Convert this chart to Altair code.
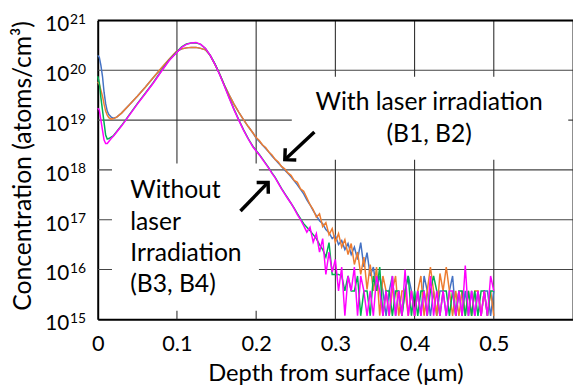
import altair as alt
import pandas as pd

# ---------------- data (log10 of concentration, atoms/cm3) ----------------
HEAD_DEPTH = [0.000, 0.002, 0.004, 0.006, 0.008, 0.010, 0.012, 0.014, 0.017, 0.020,
              0.024, 0.030, 0.040, 0.050, 0.060, 0.070, 0.080, 0.090, 0.100, 0.106,
              0.112, 0.118, 0.124, 0.130, 0.136, 0.142, 0.148, 0.154, 0.160, 0.166,
              0.172, 0.178, 0.184, 0.190, 0.196]

TAIL_DEPTH = [0.200, 0.204, 0.208, 0.212, 0.216, 0.220, 0.224, 0.228, 0.232, 0.236,
              0.240, 0.244, 0.248, 0.252, 0.256, 0.260, 0.264, 0.268, 0.272, 0.276,
              0.280, 0.284, 0.288, 0.292, 0.296, 0.300, 0.304, 0.308, 0.312, 0.316,
              0.320, 0.324, 0.328, 0.332, 0.336, 0.340, 0.344, 0.348, 0.352, 0.356,
              0.360, 0.364, 0.368, 0.372, 0.376, 0.380, 0.384, 0.388, 0.392, 0.396,
              0.400, 0.404, 0.408, 0.412, 0.416, 0.420, 0.424, 0.428, 0.432, 0.436,
              0.440, 0.444, 0.448, 0.452, 0.456, 0.460, 0.464, 0.468, 0.472, 0.476,
              0.480, 0.484, 0.488, 0.492, 0.496, 0.500]

B1_HEAD = [20.30, 20.26, 20.10, 19.88, 19.56, 19.33, 19.18, 19.11, 19.06, 19.04,
           19.06, 19.14, 19.31, 19.48, 19.66, 19.85, 20.03, 20.21, 20.38, 20.43,
           20.45, 20.46, 20.46, 20.44, 20.41, 20.30, 20.12, 19.92, 19.70, 19.50,
           19.32, 19.16, 19.01, 18.87, 18.74]
B1_TAIL = [18.64, 18.57, 18.50, 18.43, 18.36, 18.28, 18.21, 18.14, 18.07, 18.00,
           17.93, 17.86, 17.78, 17.70, 17.61, 17.52, 17.40, 17.30, 17.18, 17.08,
           16.98, 16.92, 16.80, 16.74, 16.62, 16.68, 16.50, 16.58, 16.40, 16.52,
           16.30, 16.45, 16.20, 16.54, 16.05, 16.34, 15.87, 16.05, 15.57, 15.87,
           15.57, 15.07, 15.57, 15.87, 15.07, 15.57, 15.07, 15.57, 15.87, 15.57,
           15.07, 15.57, 15.07, 15.87, 15.57, 15.07, 15.57, 15.07, 15.57, 15.57,
           15.07, 15.57, 15.87, 15.07, 15.57, 15.07, 15.57, 15.07, 15.57, 15.07,
           15.57, 15.07, 15.57, 15.57, 15.07, 15.57]

B2_HEAD = [19.77, 19.72, 19.60, 19.48, 19.32, 19.18, 19.10, 19.05, 19.02, 19.03,
           19.06, 19.14, 19.31, 19.48, 19.66, 19.85, 20.04, 20.22, 20.39, 20.43,
           20.45, 20.46, 20.46, 20.44, 20.41, 20.30, 20.12, 19.92, 19.70, 19.50,
           19.32, 19.16, 19.01, 18.87, 18.74]
B2_TAIL = [18.65, 18.59, 18.50, 18.45, 18.36, 18.30, 18.21, 18.16, 18.07, 18.02,
           17.94, 17.89, 17.79, 17.75, 17.62, 17.57, 17.44, 17.30, 17.20, 17.05,
           17.12, 16.86, 16.94, 16.70, 16.82, 16.55, 16.72, 16.45, 16.60, 16.30,
           16.52, 16.10, 16.35, 15.90, 16.25, 15.60, 16.10, 15.57, 16.05, 15.07,
           15.87, 15.57, 15.07, 15.57, 15.87, 15.07, 15.57, 15.57, 15.07, 15.57,
           15.07, 15.57, 15.87, 15.07, 15.57, 16.05, 15.57, 15.07, 15.92, 15.57,
           16.05, 15.57, 15.07, 15.57, 15.07, 15.57, 15.07, 15.57, 15.07, 15.57,
           15.57, 15.07, 15.57, 15.07, 15.57, 15.07]

B3_HEAD = [19.88, 19.75, 19.45, 19.20, 18.95, 18.70, 18.62, 18.63, 18.66, 18.69,
           18.77, 18.89, 19.11, 19.33, 19.54, 19.75, 19.98, 20.20, 20.37, 20.47,
           20.53, 20.55, 20.55, 20.52, 20.44, 20.30, 20.13, 19.92, 19.69, 19.45,
           19.22, 19.01, 18.81, 18.63, 18.47]
B3_TAIL = [18.39, 18.31, 18.22, 18.13, 18.04, 17.94, 17.85, 17.74, 17.63, 17.53,
           17.43, 17.33, 17.23, 17.12, 17.02, 16.92, 16.85, 16.78, 16.70, 16.62,
           16.50, 16.40, 16.25, 16.54, 15.90, 15.90, 15.90, 15.87, 15.57, 15.87,
           15.57, 15.57, 15.87, 15.07, 15.57, 15.57, 15.07, 15.87, 15.57, 16.05,
           15.07, 15.57, 15.57, 15.07, 15.57, 15.57, 15.07, 15.57, 15.87, 15.07,
           15.57, 15.07, 15.57, 15.57, 15.07, 15.57, 15.87, 15.57, 15.07, 15.57,
           15.57, 15.07, 15.57, 15.07, 15.57, 15.57, 15.07, 15.57, 15.07, 15.57,
           15.07, 15.57, 15.57, 15.07, 15.57, 15.57]

B4_HEAD = [19.24, 19.20, 19.00, 18.80, 18.60, 18.53, 18.53, 18.57, 18.63, 18.68,
           18.76, 18.88, 19.10, 19.32, 19.53, 19.74, 19.97, 20.19, 20.36, 20.46,
           20.52, 20.55, 20.56, 20.52, 20.44, 20.30, 20.12, 19.91, 19.68, 19.44,
           19.21, 19.00, 18.80, 18.62, 18.46]
B4_TAIL = [18.38, 18.30, 18.21, 18.12, 18.03, 17.93, 17.84, 17.73, 17.62, 17.52,
           17.42, 17.33, 17.22, 17.10, 17.00, 16.88, 16.75, 16.85, 16.55, 16.72,
           16.35, 16.62, 15.90, 16.35, 15.95, 16.20, 15.57, 16.05, 15.07, 15.87,
           15.57, 16.05, 15.07, 15.87, 15.57, 15.07, 15.57, 15.07, 15.87, 15.57,
           15.07, 15.57, 15.07, 15.87, 15.07, 15.57, 15.07, 16.00, 15.07, 15.57,
           15.07, 15.57, 15.07, 15.57, 15.07, 15.87, 15.07, 15.57, 15.07, 15.57,
           15.07, 15.57, 15.57, 15.07, 15.57, 15.07, 16.08, 15.07, 15.57, 15.07,
           15.57, 15.07, 15.57, 15.07, 15.87, 15.57]

SERIES = ["B1", "B2", "B3", "B4"]
COLORS = ["#4472C4", "#ED7D31", "#00B050", "#FF00FF"]

X_TICKS = [0, 0.1, 0.2, 0.3, 0.4, 0.5]
V_GRID = [0.1, 0.2, 0.3, 0.4, 0.5, 0.6]
H_GRID_EXP = [16, 17, 18, 19, 20]
Y_EXP = [15, 16, 17, 18, 19, 20, 21]

# annotation boxes (depth range, log10 conc range) that hide the gridlines
BOX_X0 = [0.245, 0.018]
BOX_X1 = [0.594, 0.2035]
BOX_Y0 = [18.205, 15.17]
BOX_Y1 = [19.87, 18.126]

CENTER_TEXT = ["With laser irradiation", "(B1, B2)"]
CENTER_X = [0.4184, 0.4184]
CENTER_Y = [19.21, 18.562]

LEFT_TEXT = ["Without", "laser", "Irradiation", "(B3, B4)"]
LEFT_X = [0.041, 0.041, 0.041, 0.041]
LEFT_Y = [17.426, 16.798, 16.170, 15.543]

# arrows: tail -> head
ARROW_X0 = [0.2735, 0.1802]
ARROW_Y0 = [18.760, 17.174]
ARROW_X1 = [0.2362, 0.2151]
ARROW_Y1 = [18.205, 17.749]
ARROW_ANGLE = [227, 44]

FONT = "Lato"
TXT = 25

# ---------------- scales & axes ----------------
X = alt.Scale(domain=[0, 0.6], nice=False, zero=False)
Y = alt.Scale(type="log", domain=[1e15, 1e21], nice=False)

XA = alt.Axis(values=X_TICKS, format=".1~f", grid=False, ticks=False, tickSize=0,
              domainColor="black", domainWidth=2, labelFont=FONT, labelFontSize=22,
              labelColor="black", labelPadding=15, labelFlush=False, labelOverlap=False,
              title="Depth from surface (µm)", titleFont=FONT, titleFontSize=24,
              titleFontWeight="normal", titleColor="black",
              titleBaseline="alphabetic", titleY=62)
YA = alt.Axis(labels=False, ticks=False, tickSize=0, grid=False, domainColor="black",
              domainWidth=2, title="Concentration (atoms/cm³)", titleFont=FONT,
              titleFontSize=TXT, titleFontWeight="normal", titleColor="black",
              titleAngle=270, titleX=-68, titleY=147, titleBaseline="alphabetic",
              titleAlign="center")


def ex(field):
    return alt.X(field, scale=X, axis=XA)


def ey(field):
    return alt.Y(field, scale=Y, axis=YA)


# ---------------- grid ----------------
hgrid_df = pd.DataFrame({"y": [10.0 ** e for e in H_GRID_EXP], "x0": 0.0, "x1": 0.6})
hgrid = alt.Chart(hgrid_df).mark_rule(color="#454545", strokeWidth=1.1).encode(
    x=ex("x0:Q"), x2="x1:Q", y=ey("y:Q"))

vgrid_df = pd.DataFrame({"x": V_GRID, "y0": 1e15, "y1": 1e21})
vgrid = alt.Chart(vgrid_df).mark_rule(color="#303030", strokeWidth=1.1).encode(
    x=ex("x:Q"), y=ey("y0:Q"), y2="y1:Q")

top_df = pd.DataFrame({"y": [1e21], "x0": [0.0], "x1": [0.6]})
top = alt.Chart(top_df).mark_rule(color="black", strokeWidth=2).encode(
    x=ex("x0:Q"), x2="x1:Q", y=ey("y:Q"))

box_df = pd.DataFrame({"x0": BOX_X0, "x1": BOX_X1,
                       "y0": [10.0 ** v for v in BOX_Y0],
                       "y1": [10.0 ** v for v in BOX_Y1]})
boxes = alt.Chart(box_df).mark_rect(fill="white", strokeWidth=0).encode(
    x=ex("x0:Q"), x2="x1:Q", y=ey("y0:Q"), y2="y1:Q")

# ---------------- texts ----------------
ctext_df = pd.DataFrame({"t": CENTER_TEXT, "x": CENTER_X, "y": [10.0 ** v for v in CENTER_Y]})
ctext = alt.Chart(ctext_df).mark_text(align="center", baseline="alphabetic", font=FONT,
                                      fontSize=TXT, color="black").encode(
    x=ex("x:Q"), y=ey("y:Q"), text="t:N")

ltext_df = pd.DataFrame({"t": LEFT_TEXT, "x": LEFT_X, "y": [10.0 ** v for v in LEFT_Y]})
ltext = alt.Chart(ltext_df).mark_text(align="left", baseline="alphabetic", font=FONT,
                                      fontSize=TXT, color="black").encode(
    x=ex("x:Q"), y=ey("y:Q"), text="t:N")

# ---------------- arrows ----------------
arrow_df = pd.DataFrame({"x0": ARROW_X0, "x1": ARROW_X1,
                         "y0": [10.0 ** v for v in ARROW_Y0],
                         "y1": [10.0 ** v for v in ARROW_Y1],
                         "a": ARROW_ANGLE})
shafts = alt.Chart(arrow_df).mark_rule(color="black", strokeWidth=3.5).encode(
    x=ex("x0:Q"), x2="x1:Q", y=ey("y0:Q"), y2="y1:Q")
heads = alt.Chart(arrow_df).mark_point(
    shape="M -0.75 0.75 L 0 0 L 0.75 0.75", filled=False, stroke="black",
    strokeWidth=3.5, size=480, opacity=1).encode(
    x=ex("x1:Q"), y=ey("y1:Q"), angle=alt.Angle("a:Q", scale=None))

# ---------------- y tick labels 10^n ----------------
ylab_df = pd.DataFrame({"x": 0.0, "y": [10.0 ** e for e in Y_EXP], "e": [str(e) for e in Y_EXP]})
ybase = alt.Chart(ylab_df).mark_text(text="10", align="right", baseline="alphabetic", font=FONT,
                                     fontSize=21, dx=-29, dy=11, color="black").encode(
    x=ex("x:Q"), y=ey("y:Q"))
yexp = alt.Chart(ylab_df).mark_text(align="left", baseline="alphabetic", font=FONT,
                                    fontSize=14, dx=-28, dy=3.5, color="black").encode(
    x=ex("x:Q"), y=ey("y:Q"), text="e:N")

# ---------------- curves ----------------
heads_all = [B1_HEAD, B2_HEAD, B3_HEAD, B4_HEAD]
tails_all = [B1_TAIL, B2_TAIL, B3_TAIL, B4_TAIL]
curves = []
for name, color, h, t in zip(SERIES, COLORS, heads_all, tails_all):
    df = pd.DataFrame({"depth": HEAD_DEPTH + TAIL_DEPTH,
                       "conc": [10.0 ** v for v in h + t],
                       "series": name})
    curves.append(alt.Chart(df).mark_line(color=color, strokeWidth=1.5).encode(
        x=ex("depth:Q"), y=ey("conc:Q")))

chart = alt.layer(hgrid, vgrid, top, boxes, ctext, ltext, shafts, heads, ybase, yexp,
                  *curves).properties(
    width=482, height=303,
    padding={"left": 91, "top": 10, "right": 0, "bottom": 65},
    autosize=alt.AutoSizeParams(type="none"),
).configure_view(stroke=None).configure(font=FONT)

chart.save("out.html", embed_options={"renderer": "svg", "actions": False})
